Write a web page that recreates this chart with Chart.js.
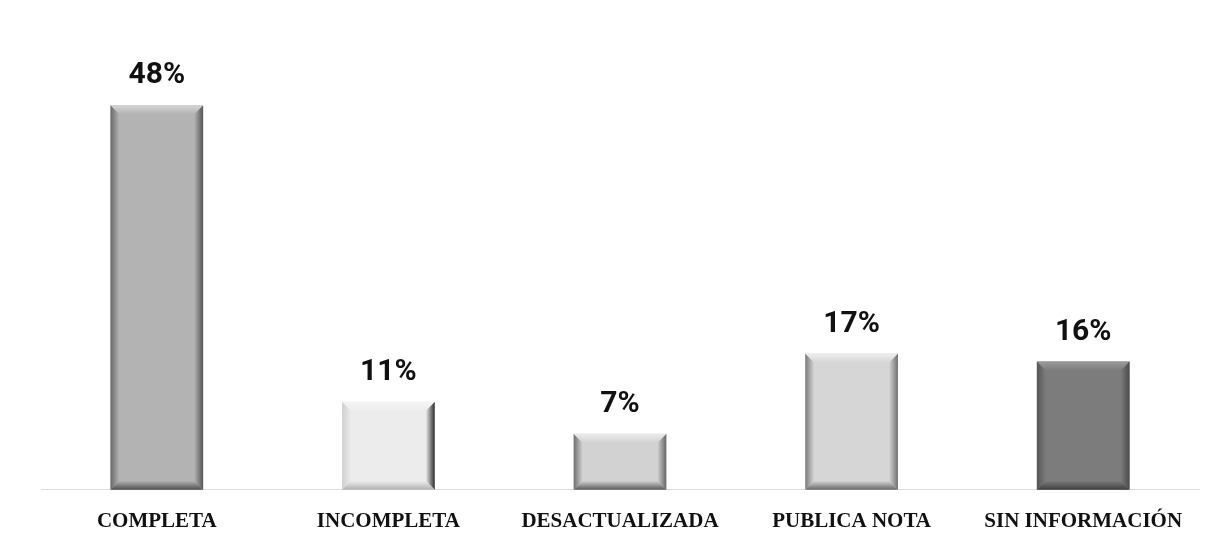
<!DOCTYPE html>
<html lang="es">

<head>
  <meta charset="UTF-8">
  <title>Estado de la información</title>
  <script src="https://cdn.jsdelivr.net/npm/chart.js"></script>
  <style>
    body {
      margin: 0;
      background: #fff;
    }

    #wrap {
      width: 1224px;
      height: 546px;
    }
  </style>
</head>

<body>

  <div id="wrap">
    <canvas id="barChart"></canvas>
  </div>

  <script>
    const categorias = ['COMPLETA', 'INCOMPLETA', 'DESACTUALIZADA', 'PUBLICA NOTA', 'SIN INFORMACIÓN'];
    const porcentajes = [48, 11, 7, 17, 16];

    // color de relleno y de los biseles de cada barra
    const relleno = ['#b3b3b3', '#ececec', '#d2d2d2', '#d6d6d6', '#7c7c7c'];
    const bordeIzq = ['#6a6a6a', '#cfcfcf', '#6e6e6e', '#7c7c7c', '#555555'];
    const bordeDer = ['#555555', '#2e2e2e', '#666666', '#707070', '#4a4a4a'];
    const bordeSup = ['#d6d6d6', '#f5f5f5', '#ececec', '#eeeeee', '#9a9a9a'];
    const bordeInf = ['#4e4e4e', '#b0b0b0', '#5a5a5a', '#666666', '#3e3e3e'];

    function trapecio(ctx, pts, fill) {
      ctx.fillStyle = fill;
      ctx.beginPath();
      ctx.moveTo(pts[0], pts[1]);
      for (let k = 2; k < pts.length; k += 2) ctx.lineTo(pts[k], pts[k + 1]);
      ctx.closePath();
      ctx.fill();
    }

    // dibuja el efecto de bisel sobre cada barra
    const biselPlugin = {
      id: 'bisel',
      afterDatasetsDraw(chart) {
        const ctx = chart.ctx;
        const meta = chart.getDatasetMeta(0);
        const b = 9;
        meta.data.forEach((bar, i) => {
          const l = bar.x - bar.width / 2;
          const r = bar.x + bar.width / 2;
          const t = bar.y;
          const bot = bar.base;
          ctx.save();

          let g = ctx.createLinearGradient(l, 0, l + b, 0);
          g.addColorStop(0, bordeIzq[i]);
          g.addColorStop(1, relleno[i]);
          trapecio(ctx, [l, t, l + b, t + b, l + b, bot - b, l, bot], g);

          g = ctx.createLinearGradient(r - b, 0, r, 0);
          g.addColorStop(0, relleno[i]);
          g.addColorStop(1, bordeDer[i]);
          trapecio(ctx, [r, t, r - b, t + b, r - b, bot - b, r, bot], g);

          g = ctx.createLinearGradient(0, t, 0, t + b);
          g.addColorStop(0, bordeSup[i]);
          g.addColorStop(1, relleno[i]);
          trapecio(ctx, [l, t, r, t, r - b, t + b, l + b, t + b], g);

          g = ctx.createLinearGradient(0, bot - b, 0, bot);
          g.addColorStop(0, relleno[i]);
          g.addColorStop(1, bordeInf[i]);
          trapecio(ctx, [l, bot, r, bot, r - b, bot - b, l + b, bot - b], g);

          ctx.restore();
        });
      }
    };

    // porcentaje encima de cada barra
    const etiquetasPlugin = {
      id: 'etiquetas',
      afterDatasetsDraw(chart) {
        const ctx = chart.ctx;
        const meta = chart.getDatasetMeta(0);
        ctx.save();
        ctx.font = 'bold 30px Roboto, "Liberation Sans", sans-serif';
        ctx.fillStyle = '#111';
        ctx.textAlign = 'center';
        ctx.textBaseline = 'alphabetic';
        meta.data.forEach((bar, i) => {
          ctx.fillText(porcentajes[i] + '%', bar.x, bar.y - 22);
        });
        ctx.restore();
      }
    };

    const ctx = document.getElementById('barChart').getContext('2d');
    new Chart(ctx, {
      type: 'bar',
      data: {
        labels: categorias,
        datasets: [{
          data: porcentajes,
          backgroundColor: relleno,
          borderWidth: 0,
          barPercentage: 0.4,
          categoryPercentage: 1
        }]
      },
      options: {
        responsive: true,
        maintainAspectRatio: false,
        animation: false,
        layout: {
          padding: { top: 9, left: 41, right: 25, bottom: 1 }
        },
        plugins: {
          legend: { display: false },
          tooltip: { enabled: false }
        },
        scales: {
          x: {
            grid: { display: false },
            border: { display: true, color: '#dcdcdc', width: 1 },
            ticks: {
              color: '#111',
              padding: 11,
              maxRotation: 0,
              font: { family: '"Liberation Serif", "Times New Roman", serif', size: 21, weight: 'bold' }
            }
          },
          y: {
            display: false,
            min: 0,
            max: 60
          }
        }
      },
      plugins: [biselPlugin, etiquetasPlugin]
    });
  </script>

</body>

</html>
